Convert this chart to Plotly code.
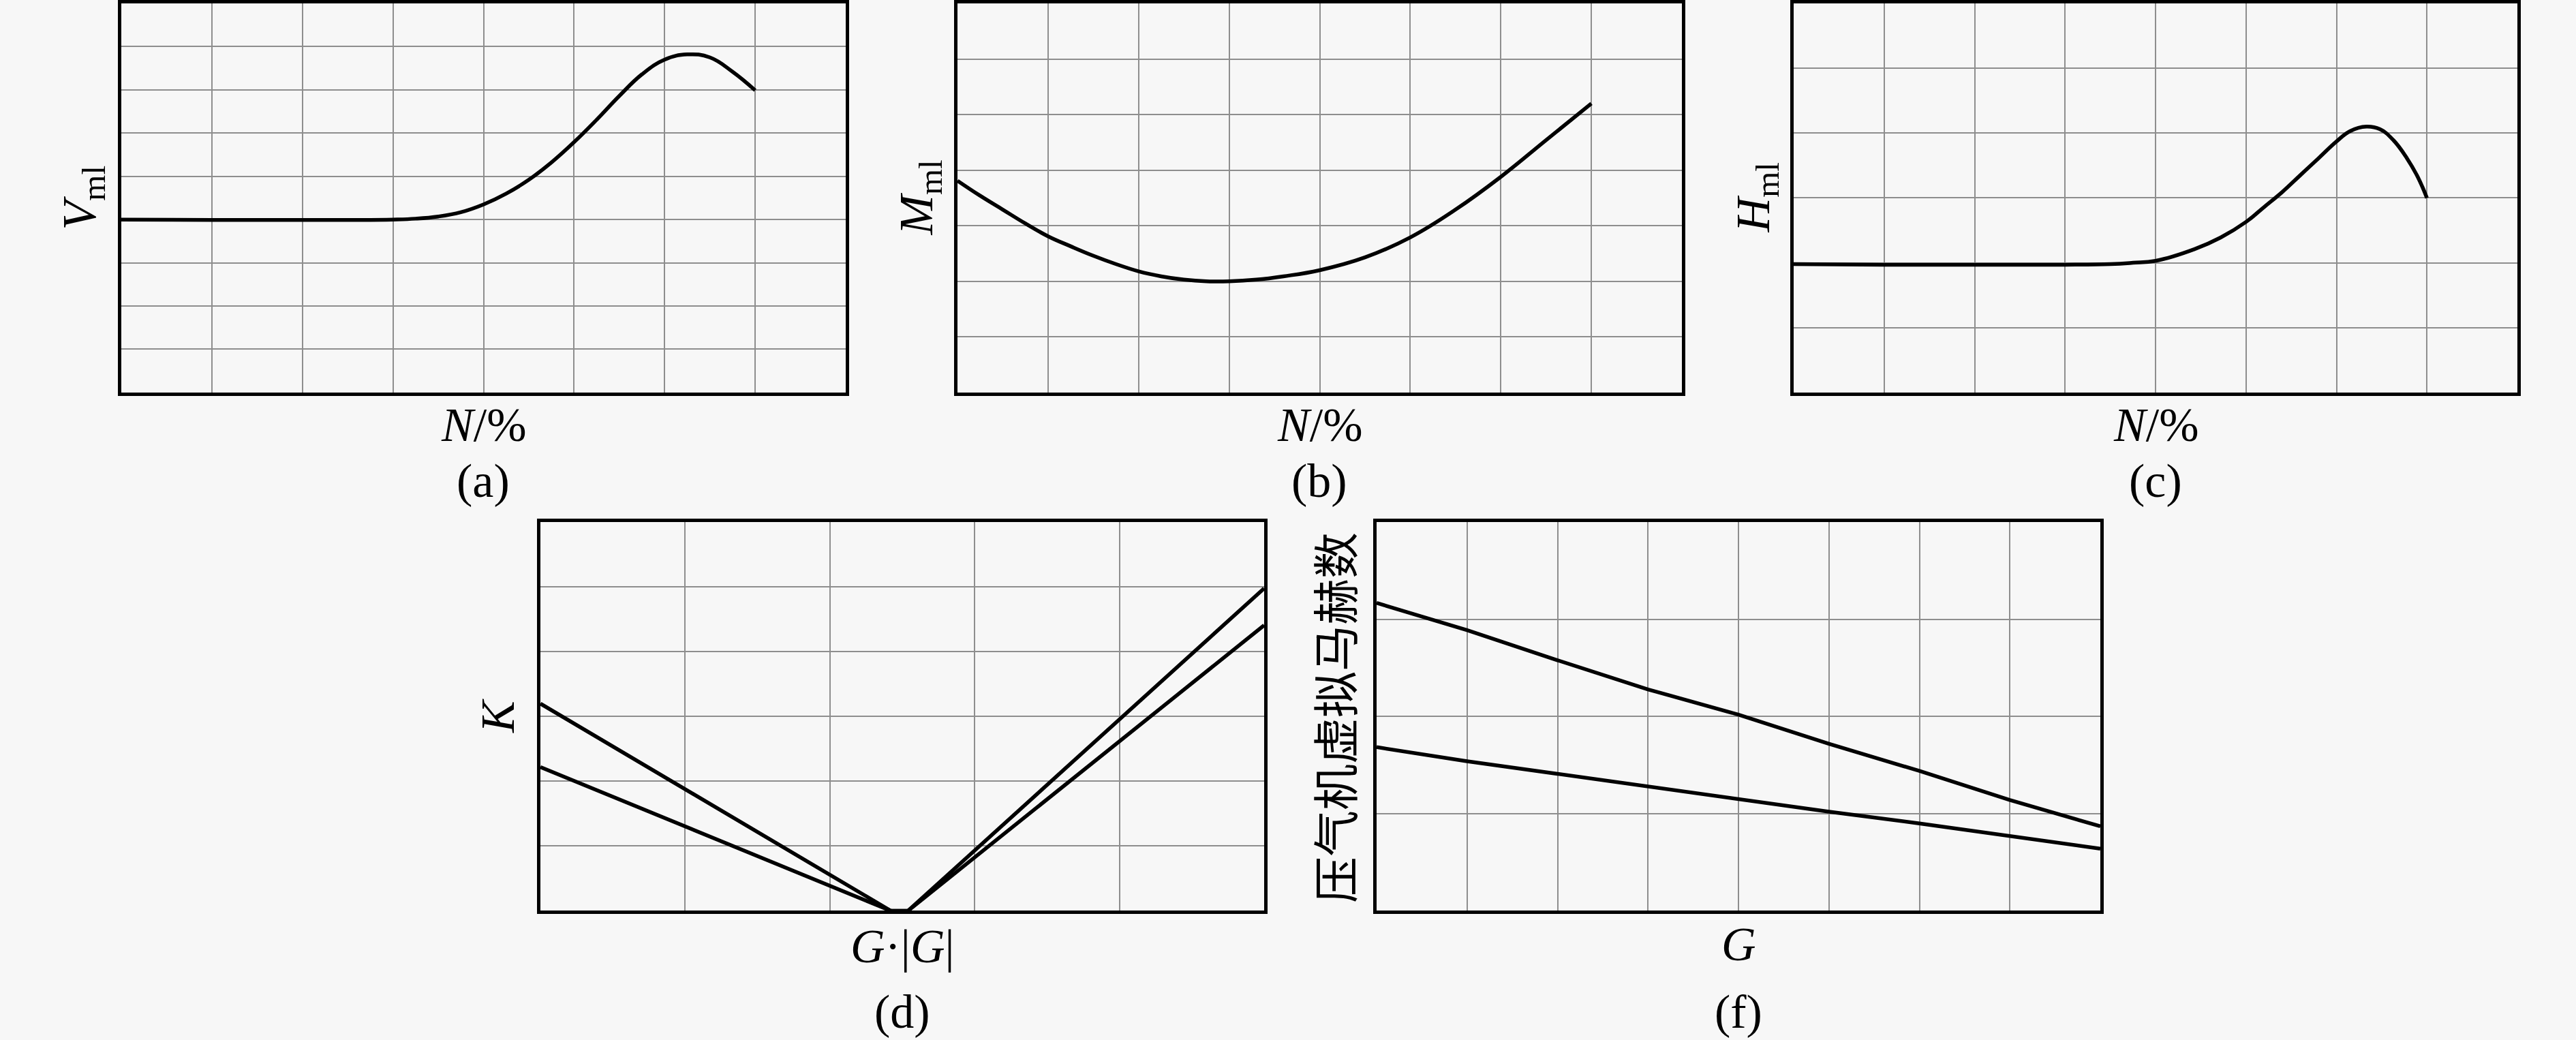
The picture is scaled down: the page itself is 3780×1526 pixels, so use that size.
import plotly.graph_objects as go

# --- data (grid units) ---
# (a) V_ml vs N
a_x = [0, 1, 2, 2.6, 3.0, 3.25, 3.5, 3.75, 4.0, 4.25, 4.5, 4.75, 5.0, 5.25, 5.5, 5.75, 6.0, 6.25, 6.5, 6.75, 7.0]
a_y = [4.0, 3.99, 3.99, 3.99, 4.0, 4.02, 4.07, 4.17, 4.35, 4.6, 4.92, 5.32, 5.79, 6.31, 6.86, 7.36, 7.70, 7.82, 7.75, 7.42, 6.99]

# (b) M_ml vs N
b_x = [0, 0.25, 0.5, 0.75, 1.0, 1.25, 1.5, 1.75, 2.0, 2.25, 2.5, 2.75, 3.0, 3.3, 3.6, 4.0, 4.5, 5.0, 5.5, 6.0, 6.5, 7.0]
b_y = [3.81, 3.54, 3.29, 3.04, 2.81, 2.63, 2.46, 2.31, 2.18, 2.09, 2.03, 2.0, 2.0, 2.03, 2.09, 2.2, 2.43, 2.79, 3.29, 3.88, 4.54, 5.2]

# (c) H_ml vs N
c_x = [0, 1, 2, 3, 3.5, 3.75, 4.0, 4.43, 4.72, 5.0, 5.2, 5.4, 5.6, 5.8, 6.0, 6.15, 6.33, 6.48, 6.63, 6.78, 6.9, 7.0]
c_y = [1.98, 1.97, 1.97, 1.97, 1.98, 2.0, 2.03, 2.21, 2.39, 2.63, 2.86, 3.09, 3.35, 3.61, 3.87, 4.03, 4.10, 4.06, 3.89, 3.61, 3.32, 3.0]

# (d) K vs G|G|, two curves
d_x = [0, 2.42, 2.54, 5]
d_y1 = [3.2, 0, 0, 4.98]
d_y2 = [2.22, 0, 0, 4.41]

# (f) compressor virtual Mach number vs G, two curves
f_x = [0, 1, 2, 3, 4, 5, 6, 7, 8]
f_y1 = [3.17, 2.89, 2.58, 2.28, 2.02, 1.72, 1.44, 1.14, 0.87]
f_y2 = [1.685, 1.54, 1.41, 1.28, 1.15, 1.02, 0.90, 0.77, 0.64]

W, H = 3780, 1526
BG = "#f7f7f7"
SERIF = "Liberation Serif, Times New Roman, serif"
CJK = "Noto Sans CJK SC"

# panel boxes in pixels: x0, x1, y0(top), y1(bottom), xmax, ymax
panels = {
    "a": (178, 1241, 2, 574, 8, 9),
    "b": (1405, 2468, 2, 574, 8, 7),
    "c": (2632, 3694, 2, 574, 8, 6),
    "d": (793, 1855, 765, 1336, 5, 6),
    "f": (2020, 3082, 765, 1336, 8, 4),
}

fig = go.Figure()

series = [
    ("a", a_x, a_y, "spline"),
    ("b", b_x, b_y, "spline"),
    ("c", c_x, c_y, "spline"),
    ("d", d_x, d_y1, "linear"),
    ("d", d_x, d_y2, "linear"),
    ("f", f_x, f_y1, "linear"),
    ("f", f_x, f_y2, "linear"),
]
names = list(panels.keys())
for key, xs, ys, shape in series:
    i = names.index(key) + 1
    sfx = "" if i == 1 else str(i)
    fig.add_trace(go.Scatter(x=xs, y=ys, mode="lines",
                             line=dict(color="black", width=5.5, shape=shape, smoothing=1.2),
                             xaxis="x" + sfx, yaxis="y" + sfx, showlegend=False,
                             hoverinfo="skip"))

layout = {}
for i, key in enumerate(names, start=1):
    x0, x1, y0, y1, xmax, ymax = panels[key]
    sfx = "" if i == 1 else str(i)
    common = dict(showgrid=True, gridcolor="#8e8e8e", gridwidth=1.5, dtick=1, tick0=0,
                  showticklabels=False, ticks="", zeroline=False, showline=True,
                  linecolor="black", linewidth=5, mirror=True, fixedrange=True)
    layout["xaxis" + sfx] = dict(common, domain=[x0 / W, x1 / W], range=[0, xmax],
                                 anchor="y" + sfx)
    layout["yaxis" + sfx] = dict(common, domain=[1 - y1 / H, 1 - y0 / H], range=[0, ymax],
                                 anchor="x" + sfx)


def ann(text, x, y, angle=0, size=70, family=SERIF):
    return dict(text=text, x=x / W, y=1 - y / H, xref="paper", yref="paper",
                showarrow=False, xanchor="center", yanchor="middle", textangle=angle,
                font=dict(family=family, size=size, color="black"))


annotations = [
    ann("<i>V</i><sub>ml</sub>", 122, 288, -90),
    ann("<i>N</i>/%", 709, 622),
    ann("(a)", 709, 704),
    ann("<i>M</i><sub>ml</sub>", 1350, 288, -90),
    ann("<i>N</i>/%", 1936, 622),
    ann("(b)", 1936, 704),
    ann("<i>H</i><sub>ml</sub>", 2578, 288, -90),
    ann("<i>N</i>/%", 3163, 622),
    ann("(c)", 3163, 704),
    ann("<i>K</i>", 731, 1050, -90),
    ann("<i>G</i>·|<i>G</i>|", 1324, 1388),
    ann("(d)", 1324, 1484),
    ann("压气机虚拟马赫数", 1957, 1052, -90, 68, CJK),
    ann("<i>G</i>", 2551, 1385),
    ann("(f)", 2551, 1484),
]

fig.update_layout(
    width=W, height=H, autosize=False,
    margin=dict(l=0, r=0, t=0, b=0),
    paper_bgcolor=BG, plot_bgcolor=BG,
    annotations=annotations,
    **layout,
)

# the default page has an 8px body margin; drop it so the figure fills the window
fig.write_html("out.html", config={"displayModeBar": False},
               post_script="document.body.style.margin='0';")
